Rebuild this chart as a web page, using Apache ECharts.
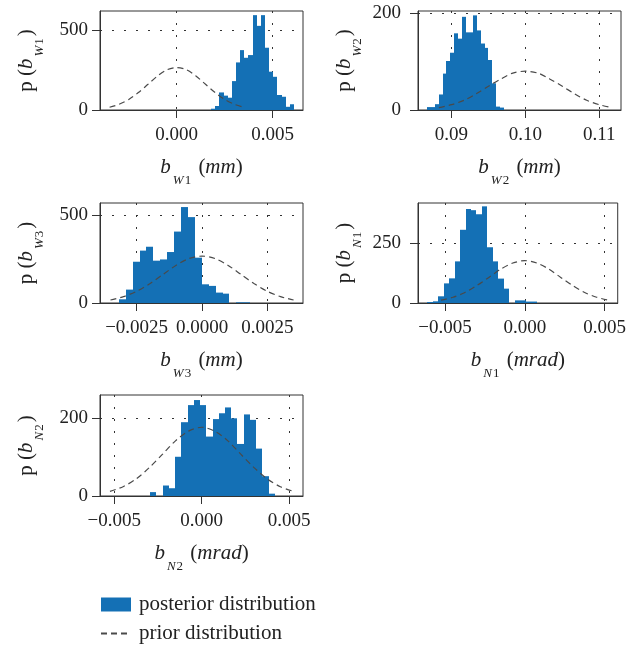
<!DOCTYPE html>
<html><head><meta charset="utf-8">
<script src="https://cdn.jsdelivr.net/npm/echarts@6/dist/echarts.min.js"></script>
<style>html,body{margin:0;padding:0;background:#fff}#c{width:629px;height:646px}</style>
</head><body><div id="c"></div>
<script>
// ---------- data ----------
// b_W1
const w1BinRange = [0.00179, 0.00611];
const w1Counts = [8, 25, 110, 90, 77, 181, 298, 375, 327, 344, 594, 527, 594, 390, 240, 208, 94, 83, 20, 36];
const w1PriorX = [-0.0035, -0.003, -0.0025, -0.002, -0.0015, -0.001, -0.0005, 0, 0.0005, 0.001, 0.0015, 0.002, 0.0025, 0.003, 0.0035];
const w1PriorY = [17, 36, 66, 109, 161, 213, 252, 266, 252, 213, 161, 109, 66, 36, 17];
const w1XTicks = [0, 0.005];
const w1YTicks = [0, 500];
// b_W2
const w2BinRange = [0.08675, 0.09705];
const w2Counts = [6, 6, 12, 32, 75, 101, 118, 158, 147, 192, 160, 160, 195, 164, 137, 128, 103, 55, 7, 5];
const w2PriorX = [0.0883, 0.09, 0.0917, 0.0933, 0.095, 0.0967, 0.0983, 0.1, 0.1017, 0.1033, 0.105, 0.1067, 0.1083, 0.11, 0.1117];
const w2PriorY = [5, 11, 20, 33, 49, 64, 76, 80, 76, 64, 49, 33, 20, 11, 5];
const w2XTicks = [0.09, 0.10, 0.11];
const w2YTicks = [0, 200];
// b_W3
const w3BinRange = [-0.00318, 0.00184];
const w3Counts = [21, 76, 234, 297, 319, 240, 247, 289, 405, 544, 487, 257, 106, 97, 59, 53, 0, 4, 4];
const w3PriorX = [-0.0035, -0.003, -0.0025, -0.002, -0.0015, -0.001, -0.0005, 0, 0.0005, 0.001, 0.0015, 0.002, 0.0025, 0.003, 0.0035];
const w3PriorY = [17, 36, 66, 109, 161, 213, 252, 266, 252, 213, 161, 109, 66, 36, 17];
const w3XTicks = [-0.0025, 0, 0.0025];
const w3YTicks = [0, 500];
// b_N1
const n1BinRange = [-0.00611, 0.00074];
const n1Counts = [4, 7, 28, 82, 103, 174, 306, 393, 388, 371, 404, 233, 174, 102, 60, 0, 11, 11, 6, 6];
const n1PriorX = [-0.00525, -0.0045, -0.00375, -0.003, -0.00225, -0.0015, -0.00075, 0, 0.00075, 0.0015, 0.00225, 0.003, 0.00375, 0.0045, 0.00525];
const n1PriorY = [12, 24, 44, 73, 107, 142, 167, 177, 167, 142, 107, 73, 44, 24, 12];
const n1XTicks = [-0.005, 0, 0.005];
const n1YTicks = [0, 250];
// b_N2
const n2BinRange = [-0.00295, 0.00419];
const n2Counts = [10, 0, 27, 20, 101, 190, 234, 247, 234, 153, 198, 213, 228, 200, 134, 210, 196, 122, 51, 6];
const n2PriorX = [-0.00525, -0.0045, -0.00375, -0.003, -0.00225, -0.0015, -0.00075, 0, 0.00075, 0.0015, 0.00225, 0.003, 0.00375, 0.0045, 0.00525];
const n2PriorY = [12, 24, 44, 73, 107, 142, 167, 177, 167, 142, 107, 73, 44, 24, 12];
const n2XTicks = [-0.005, 0, 0.005];
const n2YTicks = [0, 200];

const legendNames = ['posterior distribution', 'prior distribution'];

// ---------- styling / layout ----------
const FONT = 'Liberation Serif';
const BLUE = '#1470b5';
const INK = '#222';
const panels = [
  {range: w1BinRange, counts: w1Counts, px: w1PriorX, py: w1PriorY, xt: w1XTicks, yt: w1YTicks, dec: 3,
   xmin: -0.0040, xmax: 0.00658, ymax: 620, sub: ['W', '1'], unit: 'mm', ym: 12,
   grid: {left: 100, top: 11, width: 203, height: 99}},
  {range: w2BinRange, counts: w2Counts, px: w2PriorX, py: w2PriorY, xt: w2XTicks, yt: w2YTicks, dec: 2,
   xmin: 0.08547, xmax: 0.11294, ymax: 204, sub: ['W', '2'], unit: 'mm', ym: 17,
   grid: {left: 418, top: 11, width: 203, height: 99}},
  {range: w3BinRange, counts: w3Counts, px: w3PriorX, py: w3PriorY, xt: w3XTicks, yt: w3YTicks, dec: 4,
   xmin: -0.0039, xmax: 0.00386, ymax: 567, sub: ['W', '3'], unit: 'mm', ym: 12,
   grid: {left: 100, top: 203, width: 203, height: 100}},
  {range: n1BinRange, counts: n1Counts, px: n1PriorX, py: n1PriorY, xt: n1XTicks, yt: n1YTicks, dec: 3,
   xmin: -0.00669, xmax: 0.00582, ymax: 418, sub: ['N', '1'], unit: 'mrad', ym: 17,
   grid: {left: 418, top: 203, width: 203, height: 100}},
  {range: n2BinRange, counts: n2Counts, px: n2PriorX, py: n2PriorY, xt: n2XTicks, yt: n2YTicks, dec: 3,
   xmin: -0.00582, xmax: 0.0058, ymax: 260, sub: ['N', '2'], unit: 'mrad', ym: 12,
   grid: {left: 100, top: 395, width: 203, height: 101}}
];

const MAIN = 21, SUB = 13;
const rich = {
  n: {fontFamily: FONT, fontSize: MAIN, lineHeight: 40, verticalAlign: 'middle', color: INK},
  b: {fontFamily: FONT, fontSize: MAIN, fontStyle: 'italic', lineHeight: 40, verticalAlign: 'middle', color: INK},
  si: {fontFamily: FONT, fontSize: SUB, fontStyle: 'italic', lineHeight: 15, verticalAlign: 'bottom', color: INK, padding: [0, 0, 0, 2]},
  su: {fontFamily: FONT, fontSize: SUB, lineHeight: 15, verticalAlign: 'bottom', color: INK, padding: [0, 2, 0, 1]}
};

function fmt(v, dec) {
  if (Math.abs(v) < 1e-12) v = 0;
  return v.toFixed(dec).replace('-', '\u2212');
}

const grids = [], xAxes = [], yAxes = [], series = [];
panels.forEach((p, i) => {
  grids.push(Object.assign({show: true, borderColor: '#333', borderWidth: 1, containLabel: false}, p.grid));
  const sub = '{si|' + p.sub[0] + '}{su|' + p.sub[1] + '}';
  xAxes.push({
    type: 'value', gridIndex: i, min: p.xmin, max: p.xmax,
    name: '{b|b}' + sub + '{n| (}{b|' + p.unit + '}{n|)}',
    nameLocation: 'middle', nameGap: 37,
    nameTextStyle: {rich: rich},
    axisLine: {show: true, onZero: false, lineStyle: {color: '#333', width: 1}},
    axisTick: {show: true, length: 8, customValues: p.xt, lineStyle: {color: '#333', width: 1}},
    axisLabel: {customValues: p.xt, margin: 16, fontFamily: FONT, fontSize: 19, color: INK,
      formatter: v => fmt(v, p.dec)},
    splitLine: {show: true, lineStyle: {color: '#333', width: 1, type: [2, 10]}}
  });
  yAxes.push({
    type: 'value', gridIndex: i, min: 0, max: p.ymax,
    name: '{n|p (}{b|b}' + sub + '{n|)}',
    nameLocation: 'middle', nameGap: 54, nameRotate: 90,
    nameTextStyle: {rich: rich},
    axisLine: {show: true, onZero: false, lineStyle: {color: '#333', width: 1}},
    axisTick: {show: true, length: 8, customValues: p.yt, lineStyle: {color: '#333', width: 1}},
    axisLabel: {customValues: p.yt, margin: p.ym, fontFamily: FONT, fontSize: 19, color: INK},
    splitLine: {show: true, lineStyle: {color: '#333', width: 1, type: [2, 10]}}
  });
  const n = p.counts.length;
  const step = (p.range[1] - p.range[0]) / n;
  const bars = p.counts.map((c, k) => [p.range[0] + k * step, p.range[0] + (k + 1) * step, c]);
  series.push({
    type: 'custom', name: legendNames[0], xAxisIndex: i, yAxisIndex: i,
    itemStyle: {color: BLUE},
    encode: {x: [0, 1], y: 2},
    data: bars,
    renderItem: (params, api) => {
      const a = api.coord([api.value(0), api.value(2)]);
      const b = api.coord([api.value(1), 0]);
      const x0 = Math.round(a[0]), x1 = Math.round(b[0]);
      return {type: 'rect', shape: {x: x0, y: a[1], width: x1 - x0, height: b[1] - a[1]},
        style: {fill: BLUE}};
    },
    z: 3
  });
  series.push({
    type: 'line', name: legendNames[1], xAxisIndex: i, yAxisIndex: i,
    data: p.px.map((x, k) => [x, p.py[k]]),
    smooth: 0.3, symbol: 'none', showSymbol: false,
    lineStyle: {color: '#4a4a4a', width: 1.2, type: [6, 4]},
    itemStyle: {color: '#4a4a4a'},
    z: 4
  });
});

const chart = echarts.init(document.getElementById('c'), null, {renderer: 'canvas'});
chart.setOption({
  animation: false,
  backgroundColor: '#fff',
  grid: grids, xAxis: xAxes, yAxis: yAxes, series: series,
  legend: {
    orient: 'vertical', left: 100, top: 594, padding: 0, itemGap: 8,
    itemWidth: 30, itemHeight: 14,
    textStyle: {fontFamily: FONT, fontSize: 21, color: INK, padding: [0, 0, 0, 3]},
    data: [
      {name: legendNames[0], icon: 'rect'},
      {name: legendNames[1], itemStyle: {color: 'rgba(0,0,0,0)', borderWidth: 0, opacity: 0}}
    ],
    selectedMode: false
  }
});
</script></body></html>
